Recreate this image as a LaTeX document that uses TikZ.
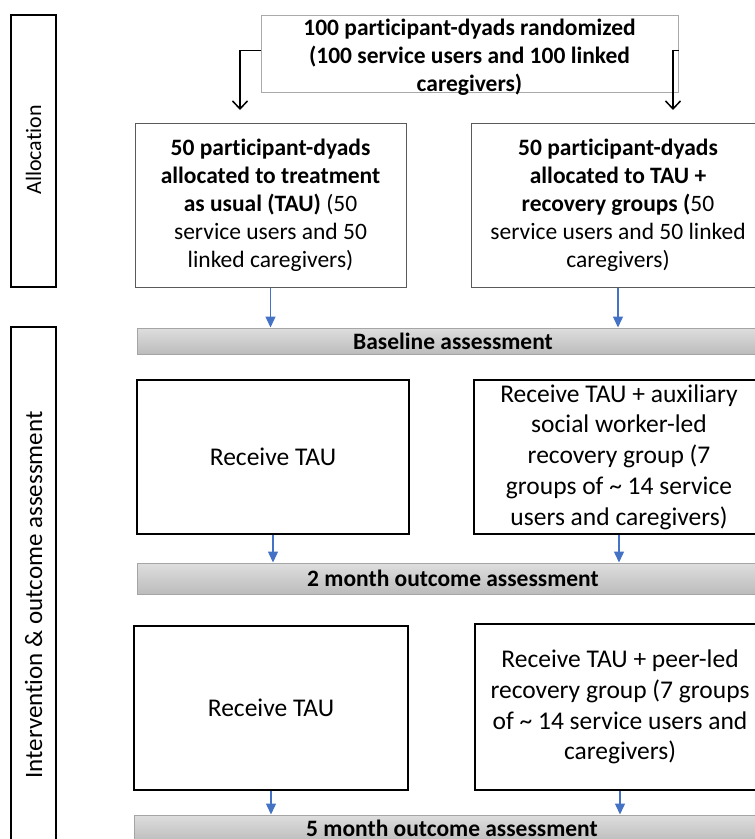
\documentclass[tikz,border=0pt]{standalone}
\usepackage{fontspec}
\setmainfont{Carlito}[Ligatures={NoCommon}]
\usetikzlibrary{arrows.meta}
\definecolor{arrblue}{RGB}{68,114,196}
\definecolor{barlo}{RGB}{188,188,188}
\definecolor{barhi}{RGB}{222,222,222}
\definecolor{barline}{RGB}{165,165,165}
\definecolor{thinline}{RGB}{90,90,90}
\tikzset{
  topbox/.style={draw={rgb,255:red,170;green,170;blue,170}, line width=1pt, fill=white, inner sep=0pt},
  toptext/.style={align=center, inner sep=0pt, font=\bfseries\fontsize{23.5}{28}\selectfont},
  allocbox/.style={draw=thinline, line width=1pt, align=center, inner sep=0pt,
     font=\fontsize{23.5}{28}\selectfont},
  intbox/.style={draw=black, line width=1.6pt, align=center, inner sep=0pt,
     font=\fontsize{25.5}{30.75}\selectfont},
  sidebox/.style={draw=black, line width=1.6pt, inner sep=0pt},
  sidetext/.style={rotate=90, font=\fontsize{22}{26}\selectfont},
  bar/.style={draw=barline, line width=1pt, top color=barhi, bottom color=barlo, inner sep=0pt,
     font=\bfseries\fontsize{23.5}{26}\selectfont},
  bluearr/.style={draw=arrblue, line width=1.4pt, -{Triangle[length=11pt,width=10pt]}},
  blackarr/.style={draw=black, line width=1.5pt, -{Straight Barb[length=8pt,width=15pt]}}
}
\begin{document}
\begin{tikzpicture}[x=1pt,y=-1pt]
\useasboundingbox (0,0) rectangle (755,839);
\clip (0,0) rectangle (755,839);

% side boxes
\node[sidebox, minimum width=45pt, minimum height=272pt] (sa) at (33.5,151) {};
\node[sidetext] (sat) at (33.5,150) {Allocation};
\node[sidebox, minimum width=45pt, minimum height=552pt] (si) at (33.5,603) {};
\node[sidetext, font=\fontsize{25}{29}\selectfont] (sit) at (33.5,595) {Intervention \& outcome assessment};

% top box
\node[topbox, minimum width=417pt, minimum height=77pt] (top) at (469.5,53.5) {};
\node[toptext] (topt) at (469.5,57.5)
  {100 participant-dyads randomized\\(100 service users and 100 linked\\caregivers)};

% allocation boxes
\node[allocbox, minimum width=271pt, minimum height=164pt] (a1) at (270.5,205)
  {\textbf{50 participant-dyads}\\\textbf{allocated to treatment}\\\textbf{as usual (TAU)} (50\\service users and 50\\linked caregivers)};
\node[allocbox, minimum width=294pt, minimum height=164pt] (a2) at (618,205)
  {\textbf{50 participant-dyads}\\\textbf{allocated to TAU +}\\\textbf{recovery groups (}50\\service users and 50 linked\\caregivers)};

\coordinate (la) at (240,110);
\coordinate (ra) at (673,110);
\draw[blackarr] ([yshift=3pt]top.west) -| (la);
\draw[blackarr] ([yshift=3pt]top.east) -| (ra);

% baseline bar
\node[bar, minimum width=632pt, minimum height=26pt] (b1) at (453,341) {Baseline assessment};
\draw[bluearr] (a1.south) -- (a1.south |- b1.north);
\draw[bluearr] (a2.south) -- (a2.south |- b1.north);

% intervention row
\node[intbox, minimum width=272pt, minimum height=154pt] (i1) at (273,457) {Receive TAU};
\node[intbox, minimum width=290pt, minimum height=154pt] (i2) at (619,457)
  {Receive TAU + auxiliary\\social worker-led\\recovery group (7\\groups of \textasciitilde{} 14 service\\users and caregivers)};

\node[bar, minimum width=632pt, minimum height=31pt] (b2) at (453,578.5) {2 month outcome assessment};
\draw[bluearr] (i1.south) -- (i1.south |- b2.north);
\draw[bluearr] (i2.south) -- (i2.south |- b2.north);

% peer row
\node[intbox, minimum width=274pt, minimum height=164pt] (p1) at (271,708) {Receive TAU};
\node[intbox, minimum width=290pt, minimum height=166pt] (p2) at (620,707)
  {Receive TAU + peer-led\\recovery group (7 groups\\of \textasciitilde{} 14 service users and\\caregivers)};

\node[bar, minimum width=636pt, minimum height=27pt] (b3) at (452,828.5) {5 month outcome assessment};
\draw[bluearr] (p1.south) -- (p1.south |- b3.north);
\draw[bluearr] (p2.south) -- (p2.south |- b3.north);
\end{tikzpicture}
\end{document}
